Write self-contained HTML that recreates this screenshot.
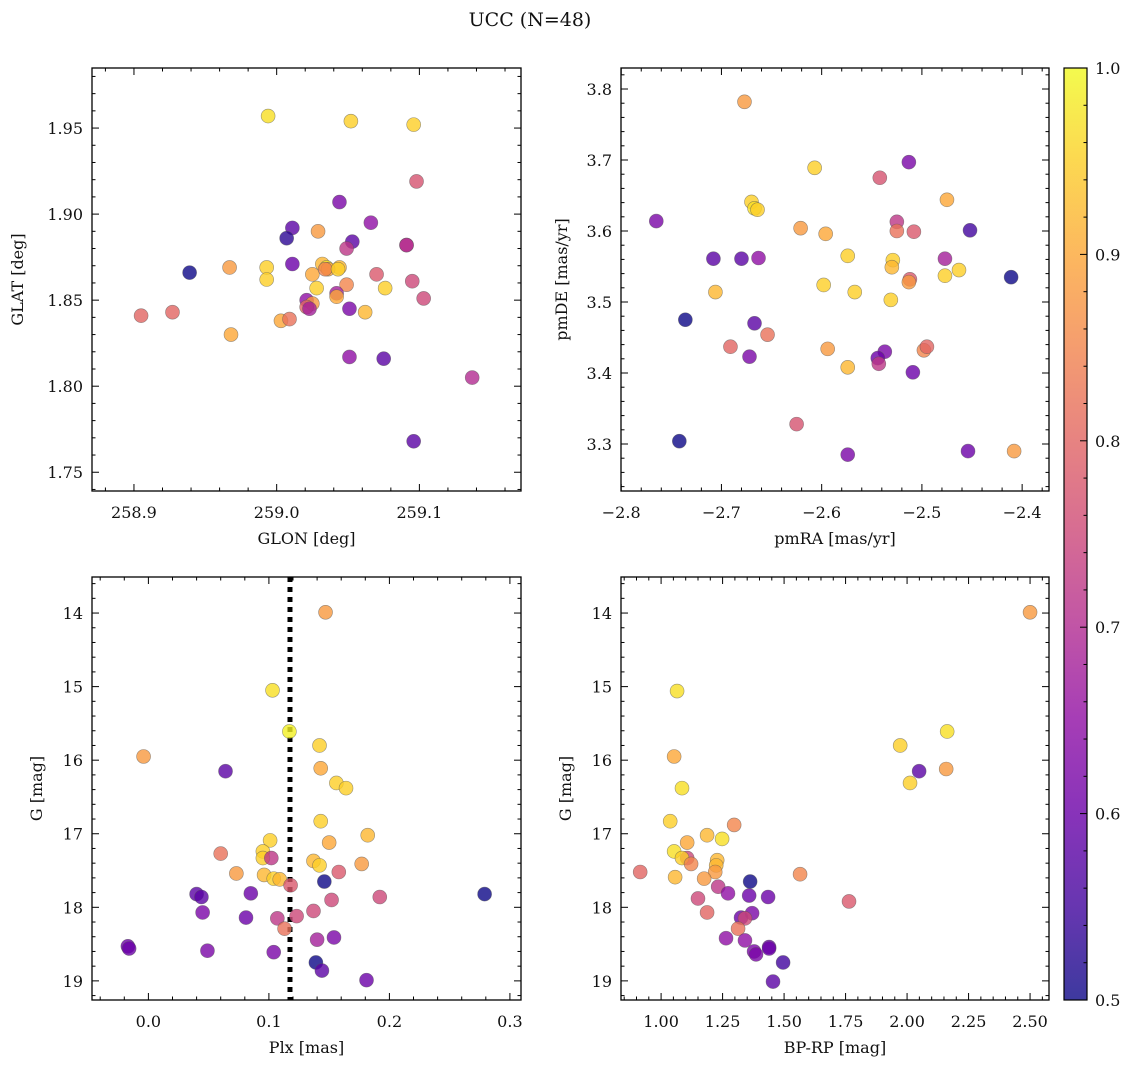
<!DOCTYPE html>
<html><head><meta charset="utf-8"><style>
html,body{margin:0;padding:0;background:#fff}
svg{display:block;font-family:"DejaVu Serif","Liberation Serif",serif}
</style></head><body>
<svg id="fig" width="1136" height="1067" viewBox="0 0 1136 1067">
<defs>
<linearGradient id="plasma" x1="0" y1="1" x2="0" y2="0">
<stop offset="0" stop-color="#0d0887"/><stop offset="0.1" stop-color="#41049d"/><stop offset="0.2" stop-color="#6a00a8"/><stop offset="0.3" stop-color="#8f0da4"/><stop offset="0.4" stop-color="#b12a90"/><stop offset="0.5" stop-color="#cc4778"/><stop offset="0.6" stop-color="#e16462"/><stop offset="0.7" stop-color="#f2844b"/><stop offset="0.8" stop-color="#fca636"/><stop offset="0.9" stop-color="#fcce25"/><stop offset="1" stop-color="#f0f921"/>
</linearGradient>
</defs>
<text x="530" y="26" font-size="19" text-anchor="middle" fill="#111">UCC (N=48)</text>
</svg>
<script>
// Panel 1: GLON / GLAT
const glon = [258.994,259.052,259.096,259.098,259.044,259.011,259.053,259.066,259.029,259.049,259.007,258.939,258.967,258.993,259.011,259.091,259.091,259.025,259.032,259.035,259.044,259.036,258.993,259.070,259.028,259.076,259.049,259.095,259.021,259.042,259.042,259.025,259.021,259.003,259.009,259.023,259.062,259.051,259.103,258.905,258.927,258.968,259.051,259.075,259.137,259.096,259.034,259.043];
const glat = [1.957,1.954,1.952,1.919,1.907,1.892,1.884,1.895,1.890,1.880,1.886,1.866,1.869,1.869,1.871,1.882,1.882,1.865,1.871,1.869,1.869,1.868,1.862,1.865,1.857,1.857,1.859,1.861,1.850,1.854,1.852,1.848,1.846,1.838,1.839,1.845,1.843,1.845,1.851,1.841,1.843,1.830,1.817,1.816,1.805,1.768,1.868,1.868];
const prob1 = [0.97,0.95,0.95,0.77,0.62,0.58,0.58,0.65,0.88,0.72,0.53,0.5,0.88,0.95,0.6,0.73,0.7,0.9,0.92,0.98,0.92,0.9,0.95,0.78,0.95,0.95,0.85,0.75,0.65,0.68,0.9,0.88,0.8,0.9,0.82,0.68,0.92,0.62,0.75,0.8,0.8,0.9,0.65,0.58,0.7,0.58,0.85,0.95];
// Panel 2: pmRA / pmDE
const pmra = [-2.677,-2.607,-2.542,-2.513,-2.765,-2.670,-2.667,-2.664,-2.475,-2.621,-2.525,-2.596,-2.525,-2.508,-2.452,-2.680,-2.663,-2.708,-2.574,-2.529,-2.530,-2.477,-2.463,-2.477,-2.512,-2.513,-2.411,-2.706,-2.598,-2.567,-2.531,-2.736,-2.667,-2.654,-2.691,-2.594,-2.537,-2.544,-2.543,-2.498,-2.495,-2.672,-2.574,-2.509,-2.625,-2.742,-2.574,-2.454,-2.408];
const pmde = [3.782,3.689,3.675,3.697,3.614,3.641,3.632,3.630,3.644,3.604,3.613,3.596,3.600,3.599,3.601,3.561,3.562,3.561,3.565,3.559,3.549,3.561,3.545,3.537,3.532,3.528,3.535,3.514,3.524,3.514,3.503,3.475,3.470,3.454,3.437,3.434,3.430,3.421,3.413,3.432,3.437,3.423,3.408,3.401,3.328,3.304,3.285,3.290,3.290];
const prob2 = [0.88,0.95,0.77,0.62,0.62,0.95,0.97,0.95,0.9,0.88,0.72,0.9,0.82,0.78,0.55,0.58,0.65,0.58,0.95,0.95,0.92,0.68,0.95,0.95,0.78,0.88,0.5,0.92,0.95,0.95,0.95,0.5,0.58,0.82,0.8,0.88,0.62,0.6,0.72,0.85,0.8,0.62,0.92,0.6,0.77,0.5,0.62,0.6,0.88];
// Panel 3: Plx / G
const plx = [0.147,0.103,0.117,-0.004,0.064,0.142,0.143,0.156,0.164,0.143,0.101,0.060,0.150,0.182,0.095,0.095,0.102,0.137,0.142,0.177,0.073,0.096,0.104,0.109,0.158,0.118,0.146,0.279,0.040,0.044,0.085,0.152,0.192,0.045,0.081,0.107,0.123,0.137,0.113,0.140,0.154,-0.017,-0.016,0.049,0.104,0.139,0.144,0.181];
const gmag3 = [13.99,15.05,15.61,15.95,16.15,15.80,16.11,16.31,16.38,16.83,17.09,17.27,17.12,17.02,17.24,17.33,17.33,17.37,17.43,17.41,17.54,17.56,17.61,17.62,17.52,17.70,17.65,17.82,17.82,17.86,17.81,17.90,17.86,18.07,18.14,18.15,18.12,18.05,18.29,18.44,18.41,18.53,18.56,18.59,18.61,18.75,18.86,18.99];
const prob3 = [0.88,0.97,0.99,0.88,0.58,0.95,0.9,0.95,0.95,0.95,0.95,0.82,0.9,0.92,0.95,0.95,0.72,0.92,0.95,0.88,0.88,0.92,0.95,0.92,0.78,0.78,0.5,0.5,0.58,0.58,0.6,0.75,0.75,0.62,0.6,0.72,0.75,0.75,0.82,0.68,0.62,0.6,0.6,0.62,0.62,0.5,0.58,0.6];
const plxLine = 0.1175;
// Panel 4: BP-RP / G
const bprp = [2.500,1.065,1.053,1.085,1.972,2.163,2.049,2.159,2.012,1.037,1.297,1.187,1.248,1.106,1.053,1.106,1.085,1.122,1.228,1.224,1.220,0.915,1.057,1.175,1.565,1.362,1.232,1.272,1.358,1.435,1.150,1.764,1.187,1.370,1.325,1.341,1.313,1.264,1.341,1.439,1.439,1.378,1.386,1.496,1.455];
const gmag4 = [13.99,15.06,15.95,16.38,15.80,15.61,16.15,16.12,16.31,16.83,16.88,17.02,17.07,17.12,17.24,17.33,17.33,17.41,17.36,17.43,17.52,17.52,17.59,17.61,17.55,17.65,17.72,17.81,17.84,17.86,17.88,17.92,18.07,18.08,18.14,18.15,18.29,18.42,18.45,18.54,18.56,18.60,18.64,18.75,19.01];
const prob4 = [0.88,0.97,0.9,0.97,0.95,0.97,0.58,0.88,0.95,0.95,0.85,0.92,0.97,0.9,0.97,0.75,0.95,0.85,0.92,0.92,0.88,0.8,0.92,0.88,0.85,0.5,0.72,0.65,0.6,0.6,0.75,0.78,0.8,0.62,0.6,0.75,0.82,0.65,0.65,0.6,0.6,0.62,0.62,0.55,0.58];
const xt1 = [258.9,259.0,259.1], yt1 = [1.75,1.80,1.85,1.90,1.95];
const xt2 = [-2.8,-2.7,-2.6,-2.5,-2.4], yt2 = [3.3,3.4,3.5,3.6,3.7,3.8];
const xt3 = [0.0,0.1,0.2,0.3], yt3 = [14,15,16,17,18,19];
const xt4 = [1.00,1.25,1.50,1.75,2.00,2.25,2.50], yt4 = [14,15,16,17,18,19];
const cbTicks = [0.5,0.6,0.7,0.8,0.9,1.0];

const NS = 'http://www.w3.org/2000/svg';
const svg = document.getElementById('fig');
function mk(tag, attrs, parent){const e=document.createElementNS(NS,tag);for(const k in attrs)e.setAttribute(k,attrs[k]);(parent||svg).appendChild(e);return e;}
const stops=[[13,8,135],[65,4,157],[106,0,168],[143,13,164],[177,42,144],[204,71,120],[225,100,98],[242,132,75],[252,166,54],[252,206,37],[240,249,33]];
function plasma(c){let t=Math.max(0,Math.min(1,(c-0.5)/0.5))*10;let i=Math.min(9,Math.floor(t));let f=t-i;const a=stops[i],b=stops[i+1];return 'rgb('+a.map((v,k)=>Math.round(v+(b[k]-v)*f)).join(',')+')';}

function panel(o){
  const g=mk('g',{});
  
  
  const sx=v=>o.L+(v-o.x0)/(o.x1-o.x0)*(o.R-o.L);
  const sy=v=>o.inv? o.T+(v-o.y0)/(o.y1-o.y0)*(o.B-o.T) : o.B-(v-o.y0)/(o.y1-o.y0)*(o.B-o.T);
  if(o.vline!==undefined){
    const l=mk('line',{x1:sx(o.vline),x2:sx(o.vline),y1:o.T,y2:o.B,stroke:'#000','stroke-width':5,'stroke-dasharray':'5,5'},g);
    
    
  }
  o.xs.forEach((xv,i)=>{
    const c=mk('circle',{cx:sx(xv),cy:sy(o.ys[i]),r:7,fill:plasma(o.cs[i]),'fill-opacity':0.8,stroke:'#555','stroke-opacity':0.6,'stroke-width':0.6},g);
    
    
  });
  mk('rect',{x:o.L,y:o.T,width:o.R-o.L,height:o.B-o.T,fill:'none',stroke:'#000','stroke-width':1.3},g);
  const xstep=o.xt[1]-o.xt[0];
  for(let v=o.xt[0]-xstep;v<=o.x1+1e-9;v+=xstep/5){
    if(v<o.x0-1e-9)continue;
    const major=Math.abs(((v-o.xt[0])/xstep)-Math.round((v-o.xt[0])/xstep))<1e-6;
    const len=major?7:3.5,x=sx(v);
    mk('line',{x1:x,x2:x,y1:o.B,y2:o.B-len,stroke:'#000','stroke-width':1},g);
    mk('line',{x1:x,x2:x,y1:o.T,y2:o.T+len,stroke:'#000','stroke-width':1},g);
  }
  const ystep=o.yt[1]-o.yt[0];
  const ylo=Math.min(o.y0,o.y1),yhi=Math.max(o.y0,o.y1);
  for(let v=o.yt[0]-ystep;v<=yhi+1e-9;v+=ystep/5){
    if(v<ylo-1e-9)continue;
    const major=Math.abs(((v-o.yt[0])/ystep)-Math.round((v-o.yt[0])/ystep))<1e-6;
    const len=major?7:3.5,y=sy(v);
    mk('line',{x1:o.L,x2:o.L+len,y1:y,y2:y,stroke:'#000','stroke-width':1},g);
    mk('line',{x1:o.R,x2:o.R-len,y1:y,y2:y,stroke:'#000','stroke-width':1},g);
  }
  o.xt.forEach(v=>{
    const t=mk('text',{x:sx(v),y:o.B+27,'font-size':16,'text-anchor':'middle',fill:'#111'},g);
    t.textContent=(v<0?'\u2212':'')+Math.abs(v).toFixed(o.xd);
    
    
  });
  o.yt.forEach(v=>{
    const t=mk('text',{x:o.L-9,y:sy(v)+6,'font-size':16,'text-anchor':'end',fill:'#111'},g);
    t.textContent=v.toFixed(o.yd);
    
    
  });
  const xl=mk('text',{x:(o.L+o.R)/2,y:o.B+53,'font-size':16,'text-anchor':'middle',fill:'#111'},g);
  xl.textContent=o.xlab;
  
  
  const yc=(o.T+o.B)/2;
  const yl=mk('text',{x:o.ylx,y:yc,'font-size':16,'text-anchor':'middle',fill:'#111',transform:'rotate(-90 '+o.ylx+' '+yc+')'},g);
  yl.textContent=o.ylab;
  
  
}

panel({name:'glon-glat-panel',L:92,R:521,T:68,B:491,x0:258.8706,x1:259.1712,y0:1.7391,y1:1.9849,xs:glon,ys:glat,cs:prob1,xt:xt1,yt:yt1,xd:1,yd:2,xlab:'GLON [deg]',ylab:'GLAT [deg]',ylx:23});
panel({name:'pm-panel',L:621,R:1049,T:68,B:491,x0:-2.8002,x1:-2.3732,y0:3.2338,y1:3.8296,xs:pmra,ys:pmde,cs:prob2,xt:xt2,yt:yt2,xd:1,yd:1,xlab:'pmRA [mas/yr]',ylab:'pmDE [mas/yr]',ylx:567});
panel({name:'plx-g-panel',L:92,R:521,T:577,B:1000,x0:-0.0468,x1:0.3092,y0:13.51,y1:19.26,inv:true,xs:plx,ys:gmag3,cs:prob3,xt:xt3,yt:yt3,xd:1,yd:0,xlab:'Plx [mas]',ylab:'G [mag]',ylx:42,vline:plxLine});
panel({name:'cmd-panel',L:621,R:1049,T:577,B:1000,x0:0.837,x1:2.577,y0:13.51,y1:19.26,inv:true,xs:bprp,ys:gmag4,cs:prob4,xt:xt4,yt:yt4,xd:2,yd:0,xlab:'BP-RP [mag]',ylab:'G [mag]',ylx:571});

const cb=mk('g',{});


const cT=68,cB=1000,cL=1064,cR=1087;
mk('rect',{x:cL,y:cT,width:cR-cL,height:cB-cT,fill:'url(#plasma)','fill-opacity':0.8},cb);
mk('rect',{x:cL,y:cT,width:cR-cL,height:cB-cT,fill:'none',stroke:'#000','stroke-width':1.2},cb);
const cy=v=>cB-(v-0.5)/0.5*(cB-cT);
for(let v=0.5;v<=1.0001;v+=0.02){
  const major=Math.abs(v*10-Math.round(v*10))<1e-6;
  mk('line',{x1:cR,x2:cR-(major?7:3.5),y1:cy(v),y2:cy(v),stroke:'#000','stroke-width':1},cb);
}
cbTicks.forEach(v=>{
  const t=mk('text',{x:1095,y:cy(v)+6,'font-size':16,fill:'#111'},cb);
  t.textContent=v.toFixed(1);
  
  
});
</script>
</body></html>
